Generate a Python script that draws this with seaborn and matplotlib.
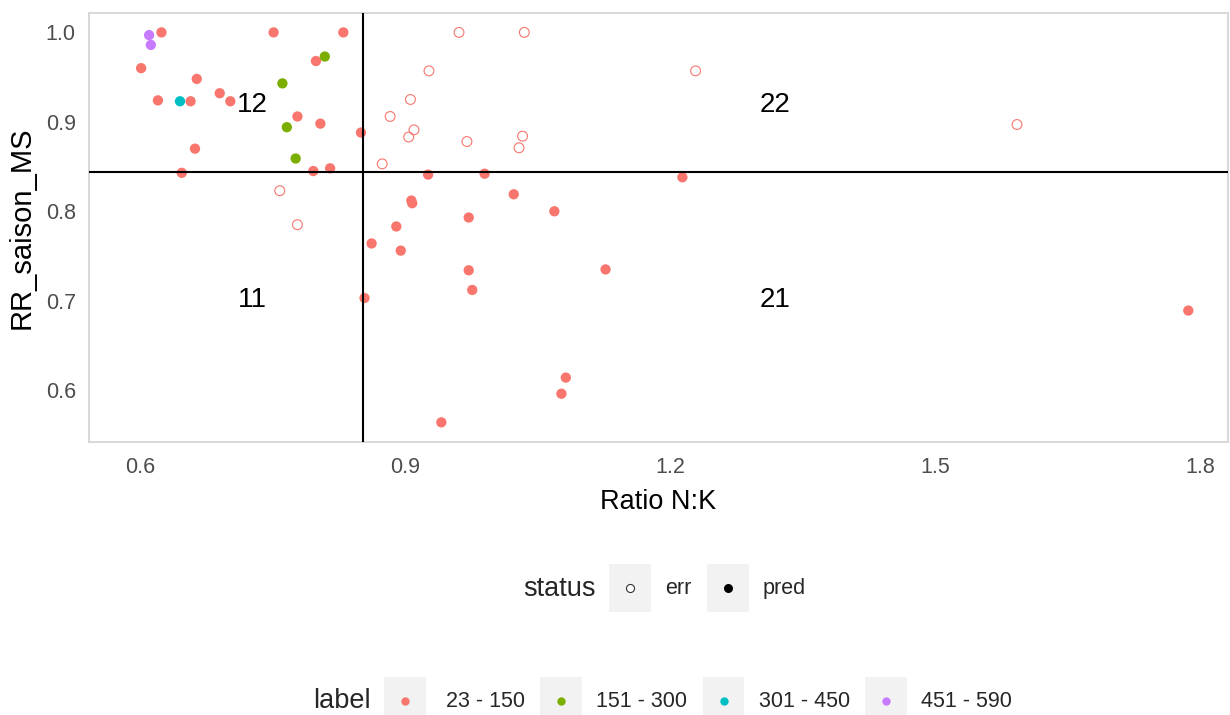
import numpy as np
import pandas as pd
import matplotlib
matplotlib.use("Agg")
import matplotlib.pyplot as plt
import seaborn as sns
from matplotlib.legend_handler import HandlerBase
from matplotlib.patches import Rectangle
from matplotlib.lines import Line2D

# ---------------- data ----------------
ratio_nk = [0.624, 0.601, 0.664, 0.620, 0.657, 0.690, 0.702, 0.751, 0.830, 0.799,
            0.778, 0.804, 0.850, 0.662, 0.796, 0.815, 0.647, 0.926, 0.990, 0.907,
            0.908, 1.023, 1.069, 0.890, 0.972, 0.862, 0.895, 0.972, 0.976, 1.127,
            0.854, 1.082, 1.077, 0.941, 1.214, 1.787,
            0.809, 0.761, 0.766, 0.776,
            0.645,
            0.610, 0.612,
            0.758, 0.778, 0.874, 0.883, 0.906, 0.927, 0.961, 1.035, 0.910, 0.904,
            0.970, 1.033, 1.029, 1.229, 1.593]
rr_saison_ms = [1.000, 0.960, 0.948, 0.924, 0.923, 0.932, 0.923, 1.000, 1.000, 0.968,
                0.906, 0.898, 0.888, 0.870, 0.845, 0.848, 0.843, 0.841, 0.842, 0.812,
                0.809, 0.819, 0.800, 0.783, 0.793, 0.764, 0.756, 0.734, 0.712, 0.735,
                0.703, 0.614, 0.596, 0.564, 0.838, 0.689,
                0.973, 0.943, 0.894, 0.859,
                0.923,
                0.997, 0.986,
                0.823, 0.785, 0.853, 0.906, 0.925, 0.957, 1.000, 1.000, 0.891, 0.883,
                0.878, 0.884, 0.871, 0.957, 0.897]
status = ["pred"] * 43 + ["err"] * 15
label = (["23 - 150"] * 36 + ["151 - 300"] * 4 + ["301 - 450"] * 1 +
         ["451 - 590"] * 2 + ["23 - 150"] * 15)

label_levels = ["23 - 150", "151 - 300", "301 - 450", "451 - 590"]
label_colors = ["#F8766D", "#7CAE00", "#00BFC4", "#C77CFF"]
status_levels = ["err", "pred"]

nk_threshold = 0.8525
rr_threshold = 0.8436

quad_text = ["12", "22", "11", "21"]
quad_x = [0.727, 1.319, 0.727, 1.319]
quad_y = [0.919, 0.919, 0.701, 0.701]

df = pd.DataFrame({"ratio_nk": ratio_nk, "rr": rr_saison_ms,
                   "status": status, "label": label})
palette = dict(zip(label_levels, label_colors))

# ---------------- style ----------------
sns.set_style("white")
plt.rcParams["font.family"] = ["Liberation Sans", "DejaVu Sans"]

fig = plt.figure(figsize=(12.3, 7.15), dpi=100)
ax = fig.add_axes([0.0724, 0.3818, 0.926, 0.6004])

pred = df[df["status"] == "pred"]
err = df[df["status"] == "err"]

sns.scatterplot(data=pred, x="ratio_nk", y="rr", hue="label", hue_order=label_levels,
                palette=palette, s=55, linewidth=0, legend=False, ax=ax, zorder=2)
sns.scatterplot(data=err, x="ratio_nk", y="rr", hue="label", hue_order=label_levels,
                palette=palette, s=50, linewidth=0.8, legend=False, ax=ax, zorder=2)
coll = ax.collections[-1]
fc = coll.get_facecolors()
coll.set_edgecolors(fc)
coll.set_facecolors("none")

ax.axvline(nk_threshold, color="black", lw=1.5, zorder=3)
ax.axhline(rr_threshold, color="black", lw=1.5, zorder=3)

for t, xx, yy in zip(quad_text, quad_x, quad_y):
    ax.text(xx, yy, t, fontsize=20, ha="center", va="center", color="black")

ax.set_xlim(0.542, 1.832)
ax.set_ylim(0.542, 1.022)
ax.set_xticks([0.6, 0.9, 1.2, 1.5, 1.8])
ax.set_yticks([0.6, 0.7, 0.8, 0.9, 1.0])
ax.set_yticklabels(["0.6", "0.7", "0.8", "0.9", "1.0"])
ax.tick_params(axis="both", which="major", length=4, width=1.1, color="#333333",
               labelsize=15.5, labelcolor="#4D4D4D", pad=5.5, direction="out")
ax.tick_params(axis="x", pad=7)
ax.set_xlabel("Ratio N:K", fontsize=19.5, color="black", labelpad=8)
ax.set_ylabel("RR_saison_MS", fontsize=21, color="black", labelpad=7)
for sp in ax.spines.values():
    sp.set_color("#D6D6D6")
    sp.set_linewidth(1.3)
ax.grid(False)


# ---------------- legends ----------------
class KeyHandler(HandlerBase):
    def create_artists(self, legend, orig_handle, xdescent, ydescent, width, height,
                       fontsize, trans):
        rect = Rectangle((-xdescent, -ydescent), width, height, facecolor="#F2F2F2",
                         edgecolor="none", transform=trans)
        mk = Line2D([-xdescent + width / 2], [-ydescent + height / 2], linestyle="none",
                    marker="o", markersize=orig_handle.get_markersize(),
                    markerfacecolor=orig_handle.get_markerfacecolor(),
                    markeredgecolor=orig_handle.get_markeredgecolor(),
                    markeredgewidth=orig_handle.get_markeredgewidth(),
                    transform=trans)
        return [rect, mk]


leg_fs = 15.5
common = dict(frameon=False, borderpad=0, borderaxespad=0, handlelength=1.95,
              handleheight=3.06, handletextpad=0.66, columnspacing=0.70,
              fontsize=leg_fs, handler_map={Line2D: KeyHandler()})

status_handles = [
    Line2D([], [], marker="o", linestyle="none", markersize=5.8, markerfacecolor="white",
           markeredgecolor="#333333", markeredgewidth=0.8),
    Line2D([], [], marker="o", linestyle="none", markersize=6.5, markerfacecolor="black",
           markeredgecolor="black", markeredgewidth=0),
]
leg1 = fig.legend(status_handles, status_levels, loc="center left",
                  bbox_to_anchor=(609 / 1230, 1 - 588 / 715), ncol=2, **common)
fig.text(596 / 1230, 1 - 589 / 715, "status", fontsize=19.5, ha="right", va="center")

label_handles = [
    Line2D([], [], marker="o", linestyle="none", markersize=6, markerfacecolor=c,
           markeredgecolor=c, markeredgewidth=0)
    for c in label_colors
]
leg2 = fig.legend(label_handles, [" " + label_levels[0]] + label_levels[1:],
                  loc="center left", bbox_to_anchor=(384 / 1230, 1 - 701 / 715),
                  ncol=4, **common)
fig.text(371 / 1230, 1 - 701 / 715, "label", fontsize=19.5, ha="right", va="center")

fig.savefig("out.png", dpi=100)
